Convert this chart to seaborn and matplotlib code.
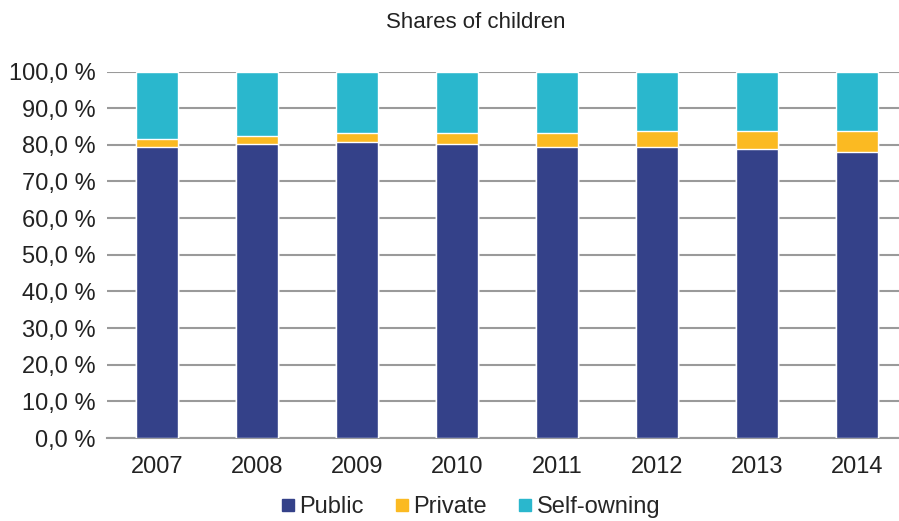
import pandas as pd
import seaborn as sns
import matplotlib.pyplot as plt
from matplotlib.lines import Line2D

# shares of children by ownership (%)
years = ['2007', '2008', '2009', '2010', '2011', '2012', '2013', '2014']
public = [79.5, 80.2, 80.9, 80.2, 79.5, 79.5, 78.8, 78.1]
private = [2.2, 2.3, 2.4, 3.1, 3.8, 4.4, 5.1, 5.8]
self_owning = [100 - a - b for a, b in zip(public, private)]

colors = {'Public': '#344189', 'Private': '#FBBA22', 'Self-owning': '#2AB7CD'}

df = pd.DataFrame({'year': years, 'Public': public, 'Private': private,
                   'Self-owning': self_owning})
# cumulative tops for stacking
df['top_public'] = df['Public']
df['top_private'] = df['Public'] + df['Private']
df['top_self'] = df['top_private'] + df['Self-owning']

sns.set_style('white')
plt.rcParams['font.family'] = ['Liberation Sans', 'DejaVu Sans']

fig = plt.figure(figsize=(8.99, 5.21), dpi=100)
ax = fig.add_axes([107 / 899, 83 / 521, 800 / 899, 366.5 / 521])

for col, name in [('top_self', 'Self-owning'), ('top_private', 'Private'), ('top_public', 'Public')]:
    sns.barplot(data=df, x='year', y=col, color=colors[name], width=0.42,
                saturation=1, ax=ax, zorder=3)

ax.set_ylim(0, 100)
ax.set_yticks(range(0, 101, 10))
ax.set_yticklabels([f'{v},0 %' for v in range(0, 101, 10)])
ax.yaxis.grid(True, color='#9A9A9A', linewidth=1.5, zorder=0)
ax.set_axisbelow(True)
for s in ['top', 'right', 'left']:
    ax.spines[s].set_visible(False)
ax.spines['bottom'].set_color('#9A9A9A')
ax.spines['bottom'].set_linewidth(1.5)
ax.tick_params(axis='y', length=0, labelsize=17, colors='#222222', pad=8)
ax.tick_params(axis='x', length=0, labelsize=17, colors='#222222', pad=13)
ax.set_xlabel('')
ax.set_ylabel('')
fig.text(476 / 899, 1 - 22 / 521, 'Shares of children', fontsize=16,
         color='#222222', ha='center', va='center')

handles = [Line2D([], [], marker='s', linestyle='', markersize=9,
                  color=colors[n]) for n in ['Public', 'Private', 'Self-owning']]
fig.legend(handles, ['Public', 'Private', 'Self-owning'], loc='center',
           bbox_to_anchor=(0.522, 0.026), ncol=3, frameon=False, fontsize=17,
           handletextpad=0.1, columnspacing=1.2, handlelength=0.8,
           borderpad=0.1)

plt.savefig('out.png', dpi=100)
